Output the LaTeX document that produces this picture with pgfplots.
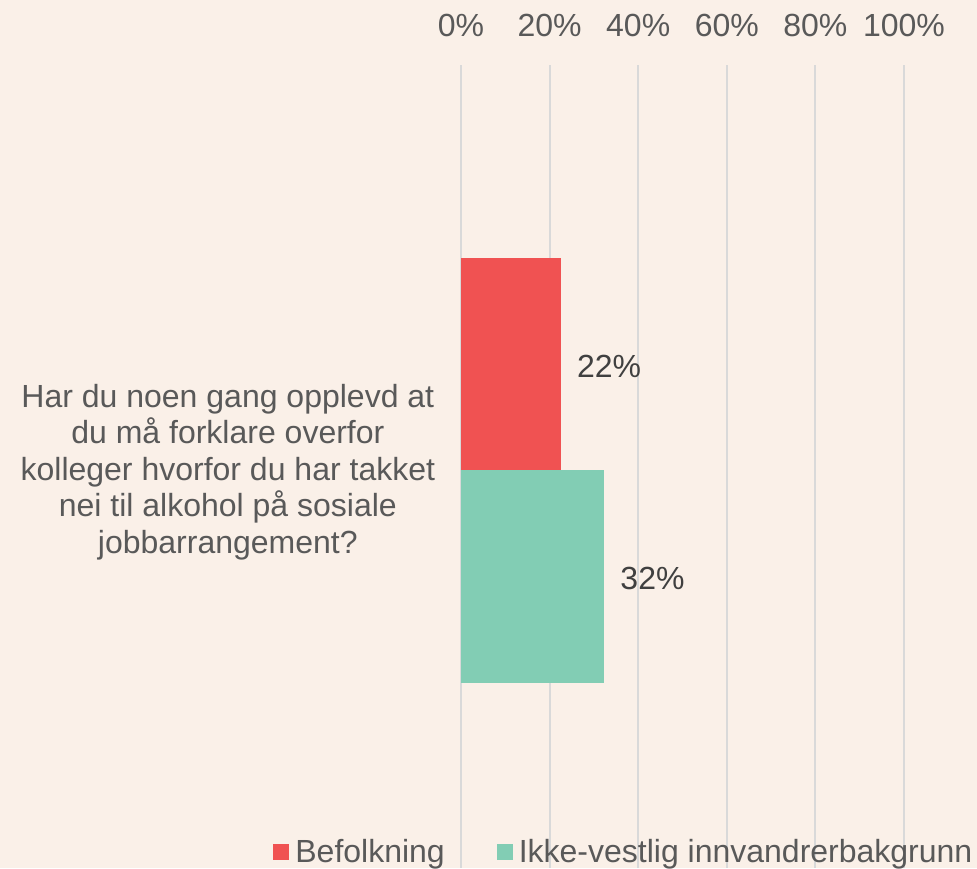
\documentclass[border=0pt]{standalone}
\usepackage{pgfplots}
\pgfplotsset{compat=1.18}
\usepackage{fontspec}
\setmainfont{Liberation Sans}
\definecolor{bg}{HTML}{FAF0E8}
\definecolor{barred}{HTML}{F05252}
\definecolor{bargreen}{HTML}{82CDB4}
\definecolor{gridgray}{HTML}{D9D9D9}
\definecolor{txtgray}{HTML}{595959}
\definecolor{lblgray}{HTML}{404040}
\begin{document}
\begin{tikzpicture}
\path[use as bounding box, fill=bg] (0pt,0pt) rectangle (488.5pt,434pt);
\begin{axis}[
  at={(230.5pt,0pt)}, anchor=south west,
  scale only axis, width=221.5pt, height=401.5pt,
  xmin=0, xmax=100, ymin=65, ymax=868, y dir=reverse,
  xbar, bar shift=0pt,
  axis line style={draw=none},
  tick style={draw=none},
  xtick={0,20,40,60,80,100},
  xticklabels={0\%,20\%,40\%,60\%,80\%,100\%},
  xticklabel pos=upper,
  xmajorgrids, grid style={color=gridgray, line width=1pt},
  ytick={472},
  yticklabels={{Har du noen gang opplevd at\\du må forklare overfor\\kolleger hvorfor du har takket\\nei til alkohol på sosiale\\jobbarrangement?}},
  yticklabel style={align=center, inner sep=0pt, font=\fontsize{16}{18.25}\selectfont, text=txtgray},
  xticklabel style={inner sep=0pt, font=\fontsize{16}{18.25}\selectfont, text=txtgray},
  xticklabel shift=14pt,
  yticklabel shift=8.5pt,
  point meta=explicit symbolic,
  nodes near coords={\pgfplotspointmeta\%},
  every node near coord/.append style={font=\fontsize{16}{18.25}\selectfont, text=lblgray, inner sep=0pt, xshift=8pt, yshift=-1pt, anchor=west},
  legend columns=2,
  legend style={draw=none, fill=none, at={(-0.438,0.0200)}, anchor=west,
    font=\fontsize{16}{18.25}\selectfont, text=txtgray,
    /tikz/every even column/.append style={column sep=26pt},
    nodes={inner sep=0pt}},
  legend image code/.code={\fill[#1] (0pt,-4pt) rectangle (8pt,4pt);},
  clip=false,
]
\addplot[fill=barred, draw=none, bar width=212] coordinates {(22.5,364) [22]};
\addlegendentry{\hspace{3pt}Befolkning}
\addplot[fill=bargreen, draw=none, bar width=213] coordinates {(32.3,576.5) [32]};
\addlegendentry{\hspace{3pt}Ikke-vestlig innvandrerbakgrunn}
\end{axis}
\end{tikzpicture}
\end{document}
